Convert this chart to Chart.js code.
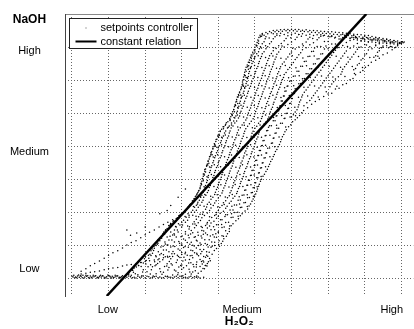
<!DOCTYPE html>
<html><head><meta charset="utf-8">
<script src="https://cdn.jsdelivr.net/npm/chart.js@4.4.1/dist/chart.umd.min.js"></script>
<style>html,body{margin:0;padding:0;background:#fff;}canvas{display:block;}</style>
</head><body>
<canvas id="c" width="414" height="329"></canvas>
<script>
// ---- axes ----
const xGrid = [0,10,20,30,40,50,60,70,80,90];
const yGrid = [0,10,20,30,40,50,60,70,80];
const xTickLabels = ['Low','Medium','High'];
const xTickPos = [9.8,46.5,87.4];
const yTickLabels = ['Low','Medium','High'];
const yTickPos = [2.8,38.2,68.8];
const yAxisName = 'NaOH';
const yAxisNamePos = 78.2;
const xAxisName = 'H\u2082O\u2082';
const xRange = [-1.91, 93.27];
const yRange = [-5.36, 80];
const seriesNames = ['setpoints controller','constant relation'];

// ---- constant relation (straight line) ----
const relationX = [9.5, 80.45];
const relationY = [-5.36, 80];

// ---- setpoints controller scatter ----
const bandLow = [[0,0.6],[0.5,0.9],[1,0.4],[1.5,0.7],[2,0.3],[2.5,0.6],[3,0.9],[3.5,0.4],[4,0.6],[4.5,0.2],[5,0.7],[5.5,0.4],[6,0.5],[6.5,0.8],[7,0.3],[7.5,0.6],[8,0.4],[8.5,0.7],[9,0.3],[9.5,0.5],[10,0.8],[10.5,0.4],[11,0.6],[11.5,0.3],[12,0.5],[12.5,0.7],[13,0.3],[13.5,0.5],[14,0.4],[14.5,0.6],[15,0.3],[16,0.5],[17,0.3],[18,0.6],[19,0.4],[20,0.2],[21,0.5],[22,0.3],[23,0.6],[24,0.4],[25,0.2],[26,0.5],[27,0.3],[28,0.4],[29,0.2],[30,0.5],[31,0.3],[32,0.4],[33,0.2],[34,0.3],[35,0.1],[36,0.3],
[0.8,0.2],[1.8,1.0],[2.8,0.2],[3.8,0.9],[4.8,0.1],[5.8,0.9],[6.8,0.1],[7.8,0.9],[8.8,0.1],[9.8,1.0],[10.8,0.1],[11.8,0.9],[12.8,0.1],[13.8,0.8],[15.5,0.7],[17.5,0.1],[19.5,0.7],[21.5,0.1],[23.5,0.2],[25.5,0.6],[27.5,0.1],[29.5,0.6],[31.5,0.1],[33.5,0.5],
[0.3,0.4],[1.3,0.2],[2.3,0.8],[3.3,0.1],[4.3,0.8],[5.3,0.2],[6.3,0.7],[7.3,0.2],[8.3,0.8],[9.3,0.1],[10.3,0.7],[11.3,0.2],[12.3,0.8],[13.3,0.2],[16.5,0.2],[18.5,0.3],[20.5,0.6],[22.5,0.5],[24.5,0.1],[26.5,0.3],[28.5,0.6],[30.5,0.2],[32.5,0.6],[34.5,0.4]];

const transitions = [[2.5,2.1],[5,3.8],[7.5,5.2],[10,7.0],[12.5,8.3],[15,10.1],[17.5,11.4],[20,13.2],[22.5,14.6],[25,16.3],[27.5,17.7],[30,19.4],
[3.8,2.9],[6.2,4.5],[8.8,6.1],[11.2,7.7],[13.8,9.2],[16.2,10.8],[18.8,12.3],[21.2,13.9],[23.8,15.5],[26.2,17.0],
[2.5,1.3],[5,1.8],[7.5,2.2],[10,2.9],[12.5,3.3],[15,4.0],[17.5,4.4],[20,5.1],[22.5,5.5],[25,6.2],[27.5,6.6],[30,7.2],
[3.8,1.5],[6.2,2.0],[8.8,2.6],[11.2,3.1],[13.8,3.7],[16.2,4.2],[18.8,4.8],[21.2,5.3],[23.8,5.9],[26.2,6.4],
[24,19.5],[27,22],[29,24.5],[31,27],[20,15.5],[16,13],[26,20.5],[15,14.6],[17.7,13.7]];

const cloud = [
[15.5,1.6],[18,1.1],[20.5,2.0],[23,1.4],[25,1.8],[27.5,1.0],[29,1.7],[31,1.2],[33,1.9],[34.5,1.5],
[17,3.1],[19.5,2.6],[22,3.5],[24,2.9],[26.5,3.3],[28,2.5],[30.5,3.2],[32,2.7],[34,3.4],[35.8,3.0],
[19.5,4.6],[21.5,4.1],[24,5.0],[26,4.4],[28.5,4.8],[30,4.0],[32.5,4.7],[34,4.2],[36,4.9],[37,4.5],
[21,6.1],[23.5,5.6],[25.5,6.5],[27,5.9],[29.5,6.3],[31,5.5],[33,6.2],[35,5.7],[36.5,6.4],[37.6,6.0],
[35.2,7.4],[36.8,7.0],[37.8,5.3],[36.6,3.9],[35.4,5.1],[34.6,6.8],[36.2,2.9],
[22,7.6],[24,7.1],[26.5,8.0],[28,7.4],[30,7.8],[31.5,7.0],[33.5,7.7],[35.5,8.1],[37.5,7.9],[38.3,7.3],
[22.5,9.1],[25,8.6],[27,9.5],[29,8.9],[30.5,9.3],[32.5,8.5],[34,9.2],[36,8.7],[38,9.4],[39.5,9.0],
[23.5,10.6],[26,10.1],[28,11.0],[30,10.4],[31.5,10.8],[33,10.0],[35,10.7],[37,10.2],[39,10.9],[40.8,10.5],
[24.5,12.1],[26.5,11.6],[28.5,12.5],[30.5,11.9],[32,12.3],[34,11.5],[35.5,12.2],[37.5,11.7],[39.5,12.4],[41.5,12.0],
[25,13.6],[27.5,13.1],[29,14.0],[31,13.4],[33,13.8],[34.5,13.0],[36.5,13.7],[38.5,13.2],[40,13.9],[42.5,13.5],
[26,15.1],[28,14.6],[30,15.5],[32,14.9],[33.5,15.3],[35.5,14.5],[37,15.2],[39,14.7],[41,15.4],[43,15.0],
[27,16.6],[29.5,16.1],[31,17.0],[33,16.4],[34.5,16.8],[36.5,16.0],[38,16.7],[40,16.2],[42,16.9],[44,16.5],
[28.5,18.1],[30.5,17.6],[32,18.5],[34,17.9],[35.5,18.3],[37.5,17.5],[39.5,18.2],[41,17.7],[43.5,18.4],[45.5,18.0],
[30,19.6],[32,19.1],[33.5,20.0],[35,19.4],[37,19.8],[39,19.0],[40.5,19.7],[42.5,19.2],[44.5,19.9],[46.5,19.5],
[31.5,21.1],[33,20.6],[34.5,21.5],[36.5,20.9],[38,21.3],[40,20.5],[42,21.2],[44,20.7],[46,21.4],[48,21.0],
[32.5,22.6],[34,22.1],[35.5,23.0],[37,22.4],[39,22.8],[41,22.0],[43,22.7],[45,22.2],[47,22.9],[48.8,22.5],
[33.5,24.1],[34.8,23.6],[36,24.5],[38,23.9],[40,24.3],[42,23.5],[44,24.2],[46,23.7],[48,24.4],[49.5,24.0],
[34.2,25.6],[35.5,25.1],[37,26.0],[39,25.4],[41,25.8],[43,25.0],[45,25.7],[47,25.2],[49,25.9],[50.2,25.5],
[35,27.1],[36.2,26.6],[37.5,27.5],[39.5,26.9],[41.5,27.3],[43.5,26.5],[45.5,27.2],[47.5,26.7],[49.5,27.4],[50.7,27.0],
[35.3,28.6],[36.5,28.1],[38,29.0],[40,28.4],[42,28.8],[44,28.0],[46,28.7],[48,28.2],[50,28.9],[51.2,28.5],
[35.7,30.1],[37,29.6],[38.5,30.5],[40.5,29.9],[42.5,30.3],[44.5,29.5],[46.5,30.2],[48.5,29.7],[50.5,30.4],[51.8,30.0],
[36.1,31.6],[37.3,31.1],[39,32.0],[41,31.4],[43,31.8],[45,31.0],[47,31.7],[49,31.2],[51,31.9],[52.6,31.5],
[36.5,33.1],[37.8,32.6],[39.5,33.5],[41.5,32.9],[43.5,33.3],[45.5,32.5],[47.5,33.2],[49.5,32.7],[51.5,33.4],[53.4,33.0],
[37,34.6],[38.2,34.1],[40,35.0],[42,34.4],[44,34.8],[46,34.0],[48,34.7],[50,34.2],[52,34.9],[54,34.5],
[37.5,36.1],[38.7,35.6],[40.5,36.5],[42.5,35.9],[44.5,36.3],[46.5,35.5],[48.5,36.2],[50.5,35.7],[52.5,36.4],[54.7,36.0],
[38,37.6],[39.2,37.1],[41,38.0],[43,37.4],[45,37.8],[47,37.0],[49,37.7],[51,37.2],[53,37.9],[55.3,37.5],
[38.5,39.1],[39.8,38.6],[41.5,39.5],[43.5,38.9],[45.5,39.3],[47.5,38.5],[49.5,39.2],[51.5,38.7],[53.5,39.4],[56,39.0],
[39,40.6],[40.3,40.1],[42,41.0],[44,40.4],[46,40.8],[48,40.0],[50,40.7],[52,40.2],[54.5,40.9],[56.7,40.5],
[39.6,42.1],[40.8,41.6],[42.5,42.5],[44.5,41.9],[46.5,42.3],[48.5,41.5],[50.5,42.2],[52.5,41.7],[55,42.4],[57.2,42.0],
[40.2,43.6],[41.4,43.1],[43,44.0],[45,43.4],[47,43.8],[49,43.0],[51,43.7],[53,43.2],[55.5,43.9],[57.9,43.5],
[40.9,45.1],[42,44.6],[43.5,45.5],[45.5,44.9],[47.5,45.3],[49.5,44.5],[51.5,45.2],[53.5,44.7],[56,45.4],[58.6,45.0],
[42,46.6],[43,46.1],[44.5,47.0],[46.5,46.4],[48.5,46.8],[50.5,46.0],[52.5,46.7],[54.5,46.2],[57,46.9],[59.8,46.5],
[43.2,48.1],[44.2,47.6],[45.5,48.5],[47.5,47.9],[49.5,48.3],[51.5,47.5],[53.5,48.2],[55.5,47.7],[58,48.4],[61,48.0],
[43.7,49.6],[44.8,49.1],[46,50.0],[48,49.4],[50,49.8],[52,49.0],[54,49.7],[56,49.2],[58.5,49.9],[60.5,49.5],[62.2,49.3],
[44.2,51.1],[45.2,50.6],[46.5,51.5],[48.5,50.9],[50.5,51.3],[52.5,50.5],[54.5,51.2],[56.5,50.7],[59,51.4],[61.5,51.0],[63.3,50.8],
[44.6,52.6],[45.6,52.1],[47,53.0],[49,52.4],[51,52.8],[53,52.0],[55,52.7],[57,52.2],[59.5,52.9],[62,52.5],[65.5,52.7],
[45,54.1],[46,53.6],[47.5,54.5],[49.5,53.9],[51.5,54.3],[53.5,53.5],[55.5,54.2],[57.5,53.7],[60,54.4],[62.5,54.0],[65,53.8],[67.6,54.1],
[45.5,55.6],[46.5,55.1],[48,56.0],[50,55.4],[52,55.8],[54,55.0],[56,55.7],[58,55.2],[60.5,55.9],[63,55.5],[66,55.3],[70,55.8],
[46.1,57.1],[47,56.6],[48.5,57.5],[50.5,56.9],[52.5,57.3],[54.5,56.5],[56.5,57.2],[58.5,56.7],[61,57.4],[64,57.0],[67,56.8],[72,57.3],
[46.5,58.6],[47.5,58.1],[49,59.0],[51,58.4],[53,58.8],[55,58.0],[57,58.7],[59,58.2],[62,58.9],[65,58.5],[68,58.3],[71,58.8],[74,58.6],
[46.8,60.1],[47.8,59.6],[49.5,60.5],[51.5,59.9],[53.5,60.3],[55.5,59.5],[57.5,60.2],[60,59.7],[63,60.4],[66,60.0],[69,59.8],[72,60.3],[76,60.1],
[47.1,61.6],[48.2,61.1],[50,62.0],[52,61.4],[54,61.8],[56,61.0],[58,61.7],[61,61.2],[64,61.9],[67,61.5],[70,61.3],[73.5,61.8],[77.5,61.6],
[47.4,63.1],[48.5,62.6],[50.5,63.5],[52.5,62.9],[54.5,63.3],[56.5,62.5],[59,63.2],[62,62.7],[65,63.4],[68,63.0],[71,62.8],[74,63.3],[77,63.1],[79.5,62.9],
[47.9,64.6],[49,64.1],[51,65.0],[53,64.4],[55,64.8],[57,64.0],[60,64.7],[63,64.2],[66,64.9],[69,64.5],[72,64.3],[75,64.8],[78,64.6],[81,64.4],
[48.5,66.1],[49.5,65.6],[51.5,66.5],[53.5,65.9],[55.5,66.3],[58,65.5],[61,66.2],[64,65.7],[67,66.4],[70,66.0],[73,65.8],[76,66.3],[79,66.1],[83,66.0],
[49,67.6],[50,67.1],[52,68.0],[54,67.4],[56,67.8],[59,67.0],[62,67.7],[65,67.2],[68,67.9],[71,67.5],[74,67.3],[77,67.8],[80,67.6],[83,67.4],[85,67.7],
[49.8,69.1],[51,68.6],[53,69.5],[55,68.9],[57,69.3],[60,68.5],[63,69.2],[66,68.7],[69,69.4],[72,69.0],[75,68.8],[78,69.3],[81,69.1],[84,68.9],[87.5,69.2],
[50.3,70.6],[51.5,70.1],[54,71.0],[56.5,70.4],[59,70.8],[62,70.0],[65,70.7],[68,70.2],[71,70.9],[74,70.5],[77,70.3],[80,70.8],[83,70.6],[86,70.4],[89,70.7],
[50.8,72.1],[52.5,71.6],[55,72.5],[58,71.9],[61,72.3],[64,71.5],[67,72.2],[70,71.7],[73,72.4],[76,72.0],[79,71.8],[82,72.3],[85,72.1],[88,71.9],[90.3,71.6],
[51.4,73.6],[53,73.1],[56,74.0],[59,73.4],[62,73.8],[65,73.0],[68,73.7],[71,73.2],[74,73.9],[77,73.5],[80,73.3],[83,72.8],[86,72.3]];

const cloudMid = [
[16.5,2.4],[19.3,1.9],[21.7,2.6],[24.2,2.0],[26.2,2.5],[28.4,2.2],[30,2.7],[32.2,1.9],[33.7,2.3],[35.3,2.1],
[18.2,3.9],[20.8,3.5],[23,4.1],[25.3,3.6],[27.4,4.0],[29.2,3.4],[31.3,3.8],[33.1,4.2],[35,3.6],[36.4,3.9],
[20.3,5.4],[22.6,5.0],[24.8,5.6],[26.6,5.1],[28.8,5.5],[30.3,5.2],[32.1,5.7],[34.1,4.9],[35.8,5.3],[37.3,5.0],
[21.6,6.9],[23,6.5],[25,7.1],[26.7,6.6],[28.8,7.0],[30.6,6.4],[32.3,6.8],[34.2,7.2],[36,6.6],
[22.3,8.4],[23.6,8.0],[25.8,8.6],[27.6,8.1],[29.5,8.5],[31,7.9],[33,8.3],[35,8.7],[36.8,8.0],[38.9,8.4],
[23,9.9],[24.3,9.5],[26.2,10.1],[28.1,9.6],[29.9,10.0],[31.8,9.4],[33.4,9.8],[35.3,10.2],[37.2,9.5],[39,9.9],[40.3,9.7],
[24,11.4],[25.4,11.0],[27.3,11.6],[29.2,11.1],[31,11.5],[32.6,10.9],[34.2,11.3],[36.3,11.7],[38.2,11.0],[40.2,11.4],[41.2,11.2],
[24.6,12.9],[26,12.5],[28,13.1],[29.8,12.6],[31.8,13.0],[33.4,12.4],[35.3,12.8],[37,13.2],[38.9,12.5],[41,12.9],[42.2,12.7],
[25.5,14.4],[27,14.0],[28.8,14.6],[31,14.1],[32.6,14.5],[34.4,13.9],[36,14.3],[38,14.7],[40,14.0],[42,14.4],[43,14.2],
[26.5,15.9],[28.5,15.5],[30.2,16.1],[32.1,15.6],[34,16.0],[35.6,15.4],[37.6,15.8],[39.5,16.2],[41.6,15.5],[43.5,15.9],
[27.8,17.4],[30,17.0],[31.6,17.6],[33.4,17.1],[35.1,17.5],[37,16.9],[38.8,17.3],[40.6,17.7],[42.8,17.0],[44.8,17.4],
[29.2,18.9],[31.2,18.5],[33,19.1],[34.6,18.6],[36.2,19.0],[38.2,18.4],[40,18.8],[42,19.2],[44,18.5],[46,18.9],
[30.8,20.4],[32.6,20.0],[34,20.6],[35.8,20.1],[37.6,20.5],[39.5,19.9],[41.4,20.3],[43.2,20.7],[45.3,20.0],[47.3,20.4],
[32,21.9],[33.5,21.5],[35,22.1],[36.8,21.6],[38.6,22.0],[40.4,21.4],[42.4,21.8],[44.4,22.2],[46.4,21.5],[48.4,21.9],
[33,23.4],[34.4,23.0],[35.8,23.6],[37.5,23.05],[39.4,23.5],[41.4,22.9],[43.5,23.3],[45.4,23.65],[47.4,22.95],[49.2,23.35],
[33.9,24.9],[35.2,24.5],[36.6,25.1],[38.5,24.55],[40.5,25.0],[42.5,24.4],[44.5,24.8],[46.5,25.15],[48.5,24.45],[49.9,24.85],
[34.6,26.4],[35.8,26.0],[37.3,26.6],[39.2,26.05],[41.2,26.5],[43.2,25.9],[45.2,26.3],[47.2,26.65],[49.3,25.95],[50.5,26.35],
[35.1,27.9],[36.4,27.5],[37.8,28.1],[39.8,27.55],[41.8,28.0],[43.8,27.4],[45.8,27.8],[47.8,28.15],[49.8,27.45],[51,27.85],
[35.5,29.4],[36.8,29.0],[38.3,29.6],[40.2,29.05],[42.2,29.5],[44.2,28.9],[46.2,29.3],[48.2,29.65],[50.2,28.95],[51.5,29.35],
[35.9,30.9],[37.2,30.5],[38.8,31.1],[40.8,30.55],[42.8,31.0],[44.8,30.4],[46.8,30.8],[48.8,31.15],[50.8,30.45],[52.2,30.85],
[36.3,32.4],[37.6,32.0],[39.2,32.6],[41.2,32.05],[43.2,32.5],[45.2,31.9],[47.2,32.3],[49.2,32.65],[51.2,31.95],[53,32.35],
[36.8,33.9],[38,33.5],[39.8,34.1],[41.8,33.55],[43.8,34.0],[45.8,33.4],[47.8,33.8],[49.8,34.15],[51.8,33.45],[53.7,33.85],
[37.2,35.4],[38.5,35.0],[40.2,35.6],[42.2,35.05],[44.2,35.5],[46.2,34.9],[48.2,35.3],[50.2,35.65],[52.2,34.95],[54.3,35.35],
[37.7,36.9],[39,36.5],[40.8,37.1],[42.8,36.55],[44.8,37.0],[46.8,36.4],[48.8,36.8],[50.8,37.15],[52.8,36.45],[55,36.85],
[38.2,38.4],[39.5,38.0],[41.2,38.6],[43.2,38.05],[45.2,38.5],[47.2,37.9],[49.2,38.3],[51.2,38.65],[53.2,37.95],[55.6,38.35],
[38.8,39.9],[40,39.5],[41.8,40.1],[43.8,39.55],[45.8,40.0],[47.8,39.4],[49.8,39.8],[51.8,40.15],[54,39.45],[56.3,39.85],
[39.3,41.4],[40.6,41.0],[42.2,41.6],[44.2,41.05],[46.2,41.5],[48.2,40.9],[50.2,41.3],[52.2,41.65],[54.8,40.95],[57,41.35],
[39.9,42.9],[41.1,42.5],[42.8,43.1],[44.8,42.55],[46.8,43.0],[48.8,42.4],[50.8,42.8],[52.8,43.15],[55.2,42.45],[57.5,42.85],
[40.5,44.4],[41.7,44.0],[43.2,44.6],[45.2,44.05],[47.2,44.5],[49.2,43.9],[51.2,44.3],[53.2,44.65],[55.8,43.95],[58.2,44.35],
[41.5,45.9],[42.5,45.5],[44,46.1],[46,45.55],[48,46.0],[50,45.4],[52,45.8],[54,46.15],[56.5,45.45],[59.2,45.85],
[42.6,47.4],[43.6,47.0],[45,47.6],[47,47.05],[49,47.5],[51,46.9],[53,47.3],[55,47.65],[57.5,46.95],[60.3,47.35],
[43.4,48.9],[44.5,48.5],[45.8,49.1],[47.8,48.55],[49.8,49.0],[51.8,48.4],[53.8,48.8],[55.8,49.15],[58.2,48.45],[60,48.85],[61.6,48.6],
[43.9,50.4],[45,50.0],[46.2,50.6],[48.2,50.05],[50.2,50.5],[52.2,49.9],[54.2,50.3],[56.2,50.65],[58.8,49.95],[61,50.35],[62.8,50.1],
[44.4,51.9],[45.4,51.5],[46.8,52.1],[48.8,51.55],[50.8,52.0],[52.8,51.4],[54.8,51.8],[56.8,52.15],[59.2,51.45],[61.8,51.85],[64.4,51.6],
[44.8,53.4],[45.8,53.0],[47.2,53.6],[49.2,53.05],[51.2,53.5],[53.2,52.9],[55.2,53.3],[57.2,53.65],[59.8,52.95],[62.2,53.35],[64.2,53.1],[66.5,53.5],
[45.2,54.9],[46.2,54.5],[47.8,55.1],[49.8,54.55],[51.8,55.0],[53.8,54.4],[55.8,54.8],[57.8,55.15],[60.2,54.45],[62.8,54.85],[65.5,54.6],[68.8,55.0],
[45.8,56.4],[46.8,56.0],[48.2,56.6],[50.2,56.05],[52.2,56.5],[54.2,55.9],[56.2,56.3],[58.2,56.65],[60.8,55.95],[63.5,56.35],[66.5,56.1],[69.5,56.5],[71,56.0],
[46.3,57.9],[47.2,57.5],[48.8,58.1],[50.8,57.55],[52.8,58.0],[54.8,57.4],[56.8,57.8],[58.8,58.15],[61.5,57.45],[64.5,57.85],[67.5,57.6],[70.5,58.0],[73,57.5],
[46.6,59.4],[47.6,59.0],[49.2,59.6],[51.2,59.05],[53.2,59.5],[55.2,58.9],[57.2,59.3],[59.5,59.65],[62.5,58.95],[65.5,59.35],[68.5,59.1],[71.5,59.5],[75,59.0],
[46.9,60.9],[48,60.5],[49.8,61.1],[51.8,60.55],[53.8,61.0],[55.8,60.4],[57.8,60.8],[60.5,61.15],[63.5,60.45],[66.5,60.85],[69.5,60.6],[72.8,61.0],[76.8,60.5],
[47.2,62.4],[48.3,62.0],[50.2,62.6],[52.2,62.05],[54.2,62.5],[56.2,61.9],[58.5,62.3],[61.5,62.65],[64.5,61.95],[67.5,62.35],[70.5,62.1],[73.8,62.5],[77.2,62.0],[78.8,62.4],
[47.6,63.9],[48.7,63.5],[50.8,64.1],[52.8,63.55],[54.8,64.0],[56.8,63.4],[59.5,63.8],[62.5,64.15],[65.5,63.45],[68.5,63.85],[71.5,63.6],[74.5,64.0],[77.5,63.5],[80.2,63.9],
[48.2,65.4],[49.2,65.0],[51.2,65.6],[53.2,65.05],[55.2,65.5],[57.5,64.9],[60.5,65.3],[63.5,65.65],[66.5,64.95],[69.5,65.35],[72.5,65.1],[75.5,65.5],[78.5,65.0],[81.8,65.4],
[48.8,66.9],[49.8,66.5],[51.8,67.1],[53.8,66.55],[55.8,67.0],[58.5,66.4],[61.5,66.8],[64.5,67.15],[67.5,66.45],[70.5,66.85],[73.5,66.6],[76.5,67.0],[79.5,66.5],[82.5,66.9],[84,66.6],
[49.4,68.4],[50.5,68.0],[52.5,68.6],[54.5,68.05],[56.5,68.5],[59.5,67.9],[62.5,68.3],[65.5,68.65],[68.5,67.95],[71.5,68.35],[74.5,68.1],[77.5,68.5],[80.5,68.0],[83.5,68.4],[86.2,68.2],
[50,69.9],[51.2,69.5],[53.5,70.1],[55.8,69.55],[58,70.0],[61,69.4],[64,69.8],[67,70.15],[70,69.45],[73,69.85],[76,69.6],[79,70.0],[82,69.5],[85,69.9],[88.2,69.8],
[50.6,71.4],[52,71.0],[54.5,71.6],[57.2,71.05],[60,71.5],[63,70.9],[66,71.3],[69,71.65],[72,70.95],[75,71.35],[78,71.1],[81,71.5],[84,71.0],[87,71.4],[89.7,71.2],
[51.1,72.9],[52.8,72.5],[55.5,73.1],[58.5,72.55],[61.5,73.0],[64.5,72.4],[67.5,72.8],[70.5,73.15],[73.5,72.45],[76.5,72.85],[79.5,72.6],[82.5,72.2],[85.5,71.8]];

const cloudFill = [
[16.2,0.9],[17.3,1.4],[19.1,0.8],[21.4,1.3],[22.2,0.7],[24.6,1.2],[26.1,0.6],[28.9,1.1],[30.3,0.8],[32.6,1.3],[34.1,0.7],
[18.9,3.6],[20.2,4.3],[22.7,3.8],[23.4,4.5],[25.9,3.7],[27.1,4.4],[29.7,3.9],[31.9,4.6],[33.3,3.5],[35.6,4.3],[36.9,3.7],
[21.3,7.3],[22.9,6.8],[24.4,7.5],[26.1,6.7],[27.3,7.4],[29.1,6.6],[30.9,7.4],[32.8,6.9],[34.1,7.6],[37.1,6.7],
[23.3,10.3],[24.9,9.7],[25.5,10.4],[27.6,9.8],[29.4,10.6],[30.9,9.6],[32.2,10.3],[34.6,9.9],[36.4,10.5],[38.3,9.7],[40.1,10.2],
[25.3,13.3],[26.8,12.7],[27.9,13.5],[30.1,12.8],[32.4,13.4],[33.7,12.6],[35.9,13.3],[37.8,12.8],[39.3,13.5],[41.4,12.7],
[26.9,16.3],[28.3,15.7],[29.1,16.5],[31.6,15.8],[33.6,16.4],[35.3,15.7],[36.9,16.4],[38.7,15.6],[40.9,16.3],[43.1,15.8],
[29.6,19.3],[30.9,18.7],[31.7,19.5],[33.9,18.8],[35.7,19.4],[37.6,18.6],[39.4,19.3],[41.8,18.7],[43.6,19.5],[45.4,18.8],
[32.2,22.3],[33.2,21.7],[34.3,22.5],[36.1,21.8],[37.9,22.4],[39.8,21.6],[41.6,22.3],[43.7,21.8],[45.8,22.5],[47.9,21.7],
[34.1,25.3],[35.1,24.7],[36.3,25.4],[37.9,24.8],[39.7,25.3],[41.9,24.6],[43.8,25.4],[45.7,24.7],[47.9,25.3],[49.6,24.8],
[35.4,28.3],[36.1,27.7],[37.3,28.4],[38.8,27.8],[40.7,28.3],[42.9,27.6],[44.6,28.4],[46.7,27.8],[48.9,28.3],[50.6,27.7],
[36.2,31.3],[36.9,30.7],[38.1,31.4],[39.6,30.8],[41.7,31.3],[43.6,30.6],[45.9,31.4],[47.6,30.7],[49.8,31.3],[51.7,30.8],
[37.1,34.3],[37.6,33.7],[38.9,34.4],[40.6,33.8],[42.7,34.3],[44.8,33.6],[46.6,34.4],[48.8,33.7],[50.7,34.3],[52.9,33.8],
[37.9,37.3],[38.6,36.7],[39.8,37.4],[41.7,36.8],[43.6,37.3],[45.7,36.6],[47.8,37.4],[49.7,36.7],[51.8,37.3],[54.1,36.8],
[39.1,40.3],[39.6,39.7],[40.9,40.4],[42.8,39.8],[44.7,40.3],[46.6,39.6],[48.8,40.4],[50.6,39.7],[52.9,40.3],[55.4,39.8],
[40.3,43.3],[40.9,42.7],[41.9,43.4],[43.8,42.8],[45.6,43.3],[47.8,42.6],[49.7,43.4],[51.8,42.7],[54.1,43.3],[56.6,42.8],
[41.9,46.3],[42.7,45.7],[43.6,46.4],[45.3,45.8],[47.1,46.3],[49.3,45.6],[51.4,46.4],[53.7,45.7],[55.9,46.3],[58.4,45.8],
[43.8,49.3],[44.3,48.7],[45.2,49.4],[46.9,48.8],[48.7,49.3],[50.8,48.6],[52.9,49.4],[55.1,48.7],[57.3,49.3],[59.6,48.8],[61.1,49.2],
[44.7,52.3],[45.3,51.7],[46.2,52.4],[47.9,51.8],[49.8,52.3],[51.9,51.6],[53.8,52.4],[56.1,51.7],[58.3,52.3],[60.9,51.8],[63.4,52.2],
[45.6,55.3],[46.3,54.7],[47.1,55.4],[48.9,54.8],[50.9,55.3],[52.8,54.6],[54.9,55.4],[57.1,54.7],[59.4,55.3],[61.9,54.8],[64.4,55.2],[67.3,54.9],
[46.7,58.3],[47.2,57.7],[48.1,58.4],[49.9,57.8],[51.9,58.3],[53.9,57.6],[55.9,58.4],[58.1,57.7],[60.6,58.3],[63.4,57.8],[66.3,58.2],[69.2,57.9],[72.4,58.1],
[47.3,61.3],[47.9,60.7],[48.9,61.4],[50.8,60.8],[52.8,61.3],[54.9,60.6],[56.9,61.4],[59.2,60.7],[62.1,61.3],[65.1,60.8],[68.2,61.2],[71.3,60.9],[74.6,61.1],
[48.3,64.3],[48.8,63.7],[49.9,64.4],[51.9,63.8],[53.9,64.3],[55.9,63.6],[58.3,64.4],[61.2,63.7],[64.1,64.3],[67.2,63.8],[70.3,64.2],[73.4,63.9],[76.6,64.1],[79.4,63.8],
[49.2,67.3],[49.9,66.7],[50.9,67.4],[52.9,66.8],[54.9,67.3],[57.1,66.6],[60.2,67.4],[63.1,66.7],[66.2,67.3],[69.3,66.8],[72.2,67.2],[75.4,66.9],[78.3,67.1],[81.4,66.8],[83.6,67.2],
[50.5,70.3],[51.8,69.7],[52.9,70.4],[55.1,69.8],[57.4,70.3],[60.3,69.6],[63.2,70.4],[66.3,69.7],[69.4,70.3],[72.5,69.8],[75.3,70.2],[78.4,69.9],[81.4,70.1],[84.6,69.8],[87.4,70.1],
[51.8,73.3],[53.9,72.7],[56.8,73.4],[59.8,72.8],[62.7,73.3],[65.8,72.6],[68.7,73.4],[71.8,72.7],[74.8,73.3],[77.8,72.9],[80.8,72.7],[83.8,72.4],[86.6,71.9]];

const leftEdge = [[15.5,1.2],[16.6,2.4],[17.6,3.4],[18.9,4.8],[19.8,5.9],[20.9,7.0],[21.6,8.3],[22.4,9.6],[23.2,10.9],[24.0,12.2],[24.8,13.4],[25.6,14.7],[26.5,16.0],[27.6,17.1],[28.8,18.3],[30.0,19.6],[31.2,20.8],[32.1,22.1],[32.9,23.4],[33.7,24.7],[34.4,26.0],[35.0,27.4],[35.3,28.8],[35.6,30.2],[35.9,31.6],[36.3,32.9],[36.8,34.2],[37.2,35.5],[37.6,36.8],[38.0,38.1],[38.5,39.4],[38.9,40.7],[39.4,42.0],[39.9,43.3],[40.5,44.6],[41.3,45.9],[42.2,47.1],[43.1,48.4],[43.7,49.7],[44.2,51.0],[44.6,52.3],[45.0,53.6],[45.4,54.9],[45.8,56.2],[46.3,57.5],[46.7,58.8],[47.0,60.1],[47.3,61.4],[47.6,62.7],[48.0,64.0],[48.5,65.3],[49.0,66.6],[49.5,67.9],[50.0,69.2],[50.5,70.5],[51.0,71.8],[51.5,73.1],
[16.8,1.8],[18.2,3.9],[20.1,6.5],[21.9,8.9],[23.4,11.5],[25.1,14.0],[27.0,16.6],[29.4,19.0],[31.6,21.5],[33.3,24.0],[34.7,26.6],[35.9,29.5],[36.5,32.2],[37.4,34.8],[38.3,37.4],[39.1,40.0],[40.1,42.7],[41.4,45.3],[43.2,47.8],[44.4,50.4],[45.3,52.9],[46.1,55.5],[46.9,58.1],[47.6,60.8],[48.2,63.3],[49.0,65.9],[50.0,68.5],[51.0,71.1],[52.0,73.7]];

const topEdge = [[52,74.1],[52.5,73.6],[53,74.4],[53.5,74.0],[54,74.7],[54.5,74.3],[55,75.0],[55.5,74.6],[56,75.1],[56.5,74.7],[57,75.2],[57.5,74.8],[58,75.3],[58.5,74.9],[59,75.3],[59.5,74.9],[60,75.4],[60.5,74.9],[61,75.3],[61.5,74.8],[62,75.3],[62.5,74.8],[63,75.1],[63.5,74.7],[64,75.2],[64.5,74.6],[65,75.0],[65.5,74.5],[66,75.0],[66.5,74.4],[67,74.9],[67.5,74.3],[68,74.8],[68.5,74.2],[69,74.7],[69.5,74.1],[70,74.6],[70.5,74.0],[71,74.6],[71.5,73.9],[72,74.5],[72.5,73.8],[73,74.4],[73.5,73.7],[74,74.3],[74.5,73.6],[75,74.2],[75.5,73.5],[76,74.0],[76.5,73.4],[77,73.9],[77.5,73.2],[78,73.8],[78.5,73.1],[79,73.7],[79.5,73.0],[80,73.6],[80.5,72.9],[81,73.5],[81.5,72.8],[82,73.2],[82.5,72.6],[83,73.0],[83.5,72.4],[84,72.8],[84.5,72.2],[85,72.6],[85.5,72.0],[86,72.4],[86.5,71.9],[87,72.2],[87.5,71.7],[88,72.0],[88.5,71.6],[89,71.8],[89.5,71.4],[90,71.6],[90.5,71.3],[90.8,71.5],
[76,72.6],[77,72.3],[78,72.1],[79,71.9],[80,71.8],[81,71.6],[82,71.5],[83,71.4],[84,71.3],[85,71.2],[86,71.1],[87,71.0],[88,70.9],[89,70.9],[90,71.0],[77.5,72.8],[79.5,72.5],[81.5,72.2],[83.5,71.9],[85.5,71.6],[87.5,71.3],[89.5,71.1],[80.5,70.6],[83,70.4],[85,70.3],[87,70.2],[89,70.4],[84,69.6],[86.5,69.8],[88.5,69.9],
[55,74.0],[57,74.2],[59,74.3],[61,74.2],[63,74.0],[65,73.9],[67,73.7],[69,73.6],[71,73.4],[73,73.3],[75,73.0],[77,72.8],[79,72.6],[81,72.4],[83,72.1],[85,71.8],[87,71.5],[89,71.2],
[56,73.6],[58,73.8],[60,73.9],[62,73.8],[64,73.6],[66,73.5],[68,73.3],[70,73.2],[72,73.0],[74,72.9],[76,72.7],[78,72.5],[80,72.3],[82,72.0],[84,71.8],[86,71.5],[88,71.3],[90,71.2]];

const FAMILY = "'Liberation Sans', Arial, Helvetica, sans-serif";
const toXY = arr => arr.map(p => ({x: p[0], y: p[1]}));
const setpoints = [].concat(toXY(bandLow), toXY(transitions), toXY(cloud), toXY(cloudMid), toXY(cloudFill), toXY(leftEdge), toXY(topEdge));
const relation = relationX.map((x, i) => ({x: x, y: relationY[i]}));

const legendBox = {
  id: 'legendBox',
  afterDatasetsDraw(chart) {
    const ctx = chart.ctx, a = chart.chartArea;
    const x = a.left + 4.5, y = a.top + 4.5, w = 128, h = 30;
    ctx.save();
    ctx.fillStyle = '#fff';
    ctx.fillRect(x, y, w, h);
    ctx.strokeStyle = '#222';
    ctx.lineWidth = 1;
    ctx.strokeRect(x, y, w, h);
    ctx.fillStyle = '#555';
    ctx.fillRect(x + 16, y + 9, 1, 1);
    ctx.strokeStyle = '#000';
    ctx.lineWidth = 2;
    ctx.beginPath();
    ctx.moveTo(x + 6, y + 23);
    ctx.lineTo(x + 27, y + 23);
    ctx.stroke();
    ctx.fillStyle = '#000';
    ctx.font = '11px ' + FAMILY;
    ctx.textBaseline = 'middle';
    ctx.textAlign = 'left';
    ctx.fillText(chart.data.datasets[0].label, x + 31, y + 9);
    ctx.fillText(chart.data.datasets[1].label, x + 31, y + 23);
    ctx.restore();
  }
};

new Chart(document.getElementById('c'), {
  type: 'scatter',
  data: {
    datasets: [
      { label: seriesNames[0], data: setpoints, order: 1, showLine: false,
        pointRadius: 0.75, pointBorderWidth: 0, backgroundColor: '#000', borderColor: '#000', pointHoverRadius: 0.75 },
      { label: seriesNames[1], data: relation, order: 0, showLine: true,
        pointRadius: 0, borderWidth: 2.5, borderColor: '#000', backgroundColor: '#000' }
    ]
  },
  options: {
    responsive: false,
    animation: false,
    devicePixelRatio: 1,
    events: [],
    layout: { padding: 0 },
    plugins: { legend: { display: false }, tooltip: { enabled: false }, title: { display: false } },
    scales: {
      x: {
        type: 'linear', position: 'bottom', weight: 0, min: xRange[0], max: xRange[1],
        afterBuildTicks: s => { s.ticks = xGrid.map(v => ({value: v})); },
        afterFit: s => { s.height = 0; s.paddingLeft = 0; s.paddingRight = 0; },
        ticks: { display: false },
        grid: { color: '#666', lineWidth: 1, drawTicks: false },
        border: { display: false, dash: [1, 2] }
      },
      xl: {
        type: 'linear', position: 'bottom', weight: 1, min: xRange[0], max: xRange[1],
        afterBuildTicks: s => { s.ticks = xTickPos.map(v => ({value: v})); },
        afterFit: s => { s.height = 33; s.paddingLeft = 0; s.paddingRight = 0; },
        ticks: { padding: 7, color: '#000', autoSkip: false, maxRotation: 0,
                 font: { family: FAMILY, size: 11 },
                 callback: (v, i) => xTickLabels[i] },
        grid: { display: false, drawTicks: false },
        border: { display: false },
        title: { display: true, text: xAxisName, color: '#000',
                 font: { family: FAMILY, size: 12, weight: 'bold' }, padding: { top: 0, bottom: 0 } }
      },
      xt: {
        type: 'linear', position: 'top', min: xRange[0], max: xRange[1],
        afterFit: s => { s.height = 14; s.paddingLeft = 0; s.paddingRight = 0; },
        ticks: { display: false },
        grid: { display: false, drawTicks: false },
        border: { display: true, color: '#888', width: 1 }
      },
      y: {
        type: 'linear', position: 'left', weight: 0, min: yRange[0], max: yRange[1],
        afterBuildTicks: s => { s.ticks = yGrid.map(v => ({value: v})); },
        afterFit: s => { s.width = 0; s.paddingTop = 0; s.paddingBottom = 0; },
        ticks: { display: false },
        grid: { color: '#666', lineWidth: 1, drawTicks: false },
        border: { display: false, dash: [1, 2] }
      },
      yl: {
        type: 'linear', position: 'left', weight: 1, min: yRange[0], max: yRange[1],
        afterBuildTicks: s => { s.ticks = yTickPos.concat([yAxisNamePos]).map(v => ({value: v})); },
        afterFit: s => { s.width = 65; s.paddingTop = 0; s.paddingBottom = 0; },
        ticks: { padding: 16, crossAlign: 'center', color: '#000', autoSkip: false,
                 font: c => (c.index === 3 ? { family: FAMILY, size: 12, weight: 'bold' } : { family: FAMILY, size: 11 }),
                 callback: (v, i) => (i < yTickLabels.length ? yTickLabels[i] : yAxisName) },
        grid: { display: false, drawTicks: false },
        border: { display: true, color: '#444', width: 1 }
      }
    }
  },
  plugins: [legendBox]
});
</script>
</body></html>
